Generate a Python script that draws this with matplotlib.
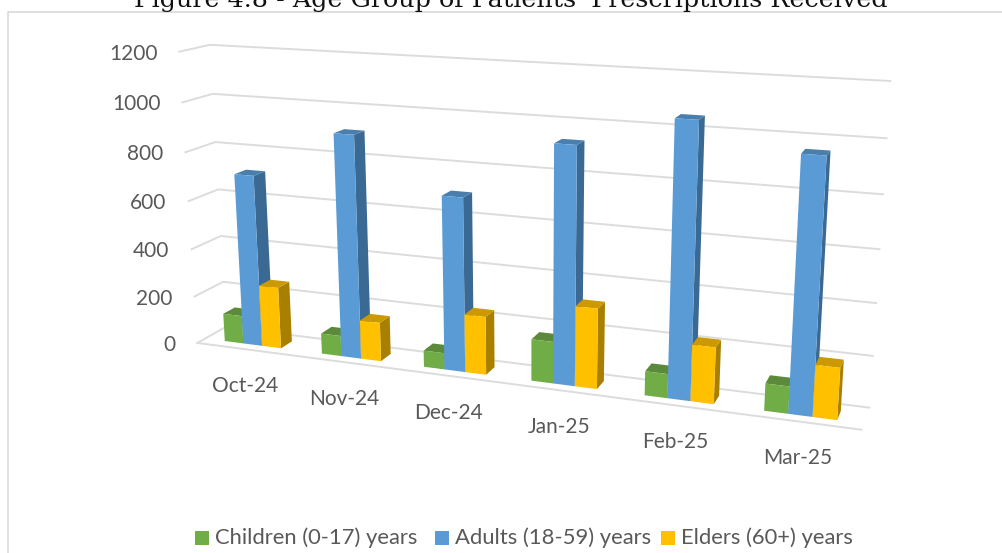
import numpy as np
import matplotlib
matplotlib.use("Agg")
import matplotlib.pyplot as plt
from matplotlib.patches import Polygon, Rectangle

months = ["Oct-24", "Nov-24", "Dec-24", "Jan-25", "Feb-25", "Mar-25"]
children = [118, 85, 67, 167, 95, 105]
adults = [712, 908, 698, 931, 1052, 957]
elders = [257, 160, 235, 318, 220, 198]
y_ticks = [0, 200, 400, 600, 800, 1000, 1200]

series_names = ["Children (0-17) years", "Adults (18-59) years", "Elders (60+) years"]
front_colors = ["#70AD47", "#5B9BD5", "#FFC000"]
side_colors = ["#4C7A30", "#3A6A94", "#A97F00"]
top_colors = ["#5A8A3A", "#4A7FAD", "#CC9A00"]

TEXT = "#595959"
GRID = "#DCDCDC"

# world coords are (category, value, depth) -> pixels, fit once as a pinhole camera
anchors = [
    (0, 0, 1, 226, 328), (0, 200, 1, 224, 282), (0, 400, 1, 221, 236), (0, 600, 1, 219, 189),
    (0, 800, 1, 214, 142), (0, 1000, 1, 212, 94), (0, 1200, 1, 210, 44),
    (6, 0, 1, 868, 408), (6, 200, 1, 873, 355), (6, 400, 1, 876, 303), (6, 600, 1, 880, 249),
    (6, 800, 1, 884, 195), (6, 1000, 1, 886, 138), (6, 1200, 1, 890, 81),
    (0, 0, 0, 197, 343), (0, 200, 0, 194, 295), (0, 400, 0, 192, 249), (0, 600, 0, 188, 201),
    (0, 800, 0, 185, 153), (0, 1000, 0, 183, 103), (0, 1200, 0, 180, 52),
    (6, 0, 0, 862, 430),
]
rows, rhs = [], []
for u, v, d, px, py in anchors:
    v = v / 1000
    rows.append([u, v, d, 1, 0, 0, 0, 0, -px * u, -px * v, -px * d])
    rows.append([0, 0, 0, 0, u, v, d, 1, -py * u, -py * v, -py * d])
    rhs += [px, py]
cam = np.linalg.lstsq(np.array(rows, float), np.array(rhs, float), rcond=None)[0]
cam = np.append(cam, 1).reshape(3, 4)


def project(u, v, d):
    p = cam @ np.array([u, v / 1000, d, 1])
    return p[0] / p[2], p[1] / p[2]


fig = plt.figure(figsize=(10.02, 5.53), dpi=100)
ax = fig.add_axes([0, 0, 1, 1])
ax.set_xlim(0, 1002)
ax.set_ylim(553, 0)
ax.axis("off")

# chart frame
ax.plot([8, 8, 1002], [553, 11.5, 11.5], color="#D9D9D9", lw=1.2)

ax.text(511, 6.5, "Figure 4.8 - Age Group of Patients' Prescriptions Received", ha="center",
        va="baseline", family="DejaVu Serif", fontsize=18.3, color="#111111")

# gridlines run along the back wall with a short return on the left
for t in y_ticks:
    pts = [project(0, t, 0), project(0, t, 1), project(6, t, 1)]
    ax.plot(*zip(*pts), color=GRID, lw=1.4, solid_joinstyle="round")
    x, y = project(0, t, 0)
    ax.text(x - 22, y + 2, str(t), ha="right", va="center", family="Lato", fontsize=15, color=TEXT)

# floor front edge
ax.plot(*zip(project(0, 0, 0), project(6, 0, 0)), color=GRID, lw=1.4)

depth_front, depth_back = 0.27, 0.68
bar_w = 0.195


def draw_bar(u0, u1, val, i):
    d0, d1 = depth_front, depth_back
    front = [project(u0, 0, d0), project(u1, 0, d0), project(u1, val, d0), project(u0, val, d0)]
    side = [project(u1, 0, d0), project(u1, 0, d1), project(u1, val, d1), project(u1, val, d0)]
    top = [project(u0, val, d0), project(u1, val, d0), project(u1, val, d1), project(u0, val, d1)]
    ax.add_patch(Polygon(side, closed=True, fc=side_colors[i], ec="none", zorder=3))
    ax.add_patch(Polygon(top, closed=True, fc=top_colors[i], ec="none", zorder=3))
    ax.add_patch(Polygon(front, closed=True, fc=front_colors[i], ec="none", zorder=3))


for c, month in enumerate(months):
    for i, vals in enumerate([children, adults, elders]):
        u0 = c + 0.5 + (i - 1.5) * bar_w
        draw_bar(u0, u0 + bar_w, vals[c], i)
    x, y = project(c + 0.5, 0, 0)
    ax.text(x, y + 37, month, ha="center", va="center", family="Lato", fontsize=15, color=TEXT)

# legend
swatch_x = [195, 435, 661]
for i, name in enumerate(series_names):
    ax.add_patch(Rectangle((swatch_x[i], 531), 14, 14, fc=front_colors[i], ec="none"))
    ax.text(swatch_x[i] + 20, 538, name, ha="left", va="center", family="Lato", fontsize=15.8, color=TEXT)

fig.savefig("out.png", dpi=100)
